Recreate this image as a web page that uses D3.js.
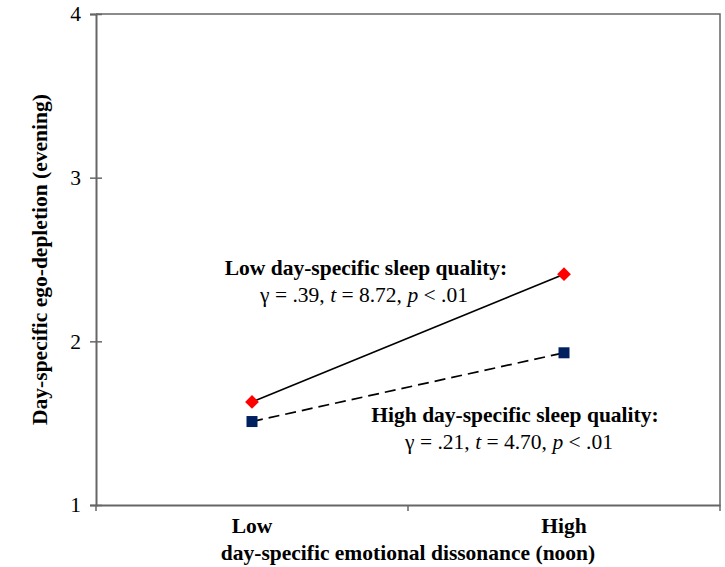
<!DOCTYPE html>
<html>
<head>
<meta charset="utf-8">
<script src="https://cdn.jsdelivr.net/npm/d3@7"></script>
<style>
  body { margin: 0; background: #fff; }
  text { font-family: "Liberation Serif", "Times New Roman", serif; fill: #000; }
</style>
</head>
<body>
<div id="chart"></div>
<script>
// Interaction plot: emotional dissonance x sleep quality -> ego-depletion

const categories = ["Low", "High"];
const yTicks = [1, 2, 3, 4];
const lowSleep = [1.63, 2.41];   // low day-specific sleep quality
const highSleep = [1.51, 1.93];  // high day-specific sleep quality

const W = 725, H = 567;
const margin = { top: 14, right: 5, bottom: 62, left: 96 };
const innerW = W - margin.left - margin.right;
const innerH = H - margin.top - margin.bottom;
const fs = "21.5px";

const svg = d3.select("#chart").append("svg")
  .attr("width", W)
  .attr("height", H);

const g = svg.append("g").attr("transform", `translate(${margin.left},${margin.top})`);

const x = d3.scaleBand().domain(categories).range([0, innerW]);
const y = d3.scaleLinear().domain([1, 4]).range([innerH, 0]);
const cx = d => x(d) + x.bandwidth() / 2;

const axisColor = "#666";

// khung (trên + phải)
g.append("path")
  .attr("d", `M0,0H${innerW}V${innerH}`)
  .attr("fill", "none")
  .attr("stroke", axisColor)
  .attr("stroke-width", 1.5);

// trục Y
g.append("g")
  .call(d3.axisLeft(y).tickValues(yTicks).tickFormat(d3.format("d")).tickSize(6))
  .call(a => a.select(".domain").attr("stroke", axisColor).attr("stroke-width", 2))
  .call(a => a.selectAll(".tick line").attr("stroke", axisColor).attr("stroke-width", 1.5).attr("x2", 6).attr("x1", -6))
  .call(a => a.selectAll(".tick text").attr("x", -15).style("font-size", fs).style("font-family", "Liberation Serif").attr("fill", "#000"));

// trục X, vạch ở ranh giới nhóm
g.append("g")
  .attr("transform", `translate(0,${innerH})`)
  .call(d3.axisBottom(x).tickSize(0).tickPadding(13))
  .call(a => a.select(".domain").attr("stroke", axisColor).attr("stroke-width", 2))
  .call(a => a.selectAll(".tick text").style("font-size", fs).style("font-weight", "bold").style("font-family", "Liberation Serif").attr("fill", "#000"));

g.append("g")
  .selectAll("line")
  .data(d3.range(categories.length + 1))
  .enter().append("line")
  .attr("x1", i => i * x.bandwidth())
  .attr("x2", i => i * x.bandwidth())
  .attr("y1", innerH)
  .attr("y2", innerH + 6)
  .attr("stroke", axisColor)
  .attr("stroke-width", 1.5);

// đường
const line = d3.line().x((d, i) => cx(categories[i])).y(d => y(d));

g.append("path")
  .datum(lowSleep)
  .attr("d", line)
  .attr("fill", "none")
  .attr("stroke", "#000")
  .attr("stroke-width", 1.7);

g.append("path")
  .datum(highSleep)
  .attr("d", line)
  .attr("fill", "none")
  .attr("stroke", "#000")
  .attr("stroke-width", 1.7)
  .attr("stroke-dasharray", "11,6");

// điểm
g.selectAll(".diamond")
  .data(lowSleep)
  .enter().append("path")
  .attr("class", "diamond")
  .attr("transform", (d, i) => `translate(${cx(categories[i])},${y(d)})`)
  .attr("d", d3.symbol().type(d3.symbolDiamond2).size(120))
  .attr("fill", "#ff0000");

g.selectAll(".square")
  .data(highSleep)
  .enter().append("rect")
  .attr("class", "square")
  .attr("x", (d, i) => cx(categories[i]) - 5.5)
  .attr("y", d => y(d) - 5.5)
  .attr("width", 11)
  .attr("height", 11)
  .attr("fill", "#002060");

// chú thích
function annot(xt, xs, yp, title, stats) {
  g.append("text")
    .attr("x", xt)
    .attr("y", yp)
    .attr("text-anchor", "middle")
    .style("font-size", fs)
    .style("font-weight", "bold")
    .text(title);
  const s = g.append("text")
    .attr("x", xs)
    .attr("y", yp + 27)
    .attr("text-anchor", "middle")
    .style("font-size", fs);
  s.append("tspan").text(`γ = ${stats[0]}, `);
  s.append("tspan").style("font-style", "italic").text("t");
  s.append("tspan").text(` = ${stats[1]}, `);
  s.append("tspan").style("font-style", "italic").text("p");
  s.append("tspan").text(" < .01");
}

annot(270, 268, 261, "Low day-specific sleep quality:", [".39", "8.72"]);
annot(419, 413, 408, "High day-specific sleep quality:", [".21", "4.70"]);

// tiêu đề trục
svg.append("text")
  .attr("transform", `translate(47,${margin.top + innerH / 2}) rotate(-90)`)
  .attr("text-anchor", "middle")
  .style("font-size", fs)
  .style("font-weight", "bold")
  .text("Day-specific ego-depletion (evening)");

svg.append("text")
  .attr("x", margin.left + innerW / 2)
  .attr("y", 560)
  .attr("text-anchor", "middle")
  .style("font-size", fs)
  .style("font-weight", "bold")
  .text("day-specific emotional dissonance (noon)");
</script>
</body>
</html>
